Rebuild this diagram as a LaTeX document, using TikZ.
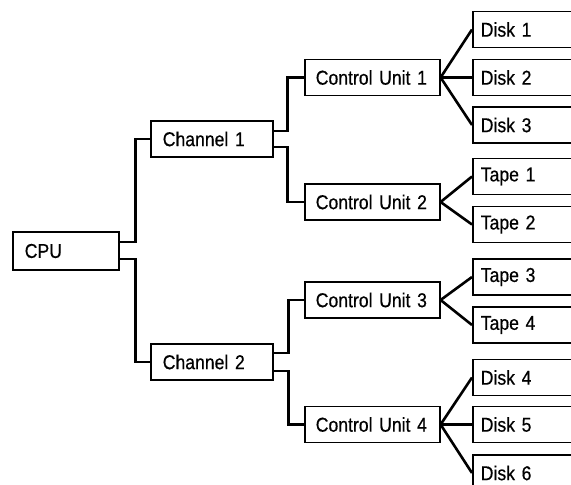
\documentclass[tikz,border=0pt]{standalone}
\usepackage{fontspec}
\setmainfont{Liberation Sans}[FakeStretch=0.88, FakeBold=0.5]
\usetikzlibrary{calc}
\begin{document}
\begin{tikzpicture}[x=1pt,y=-1pt,
  box/.style={draw, line width=1.6pt, anchor=west, inner xsep=0pt, inner ysep=0pt,
    font=\fontsize{20}{22}\selectfont, align=left},
  cpubox/.style={box, minimum width=106, minimum height=38, text width=82},
  chbox/.style={box, minimum width=122, minimum height=36, text width=98},
  cubox/.style={box, minimum width=135, minimum height=36, text width=113},
  leaf/.style={box, minimum width=120, minimum height=36, text width=104},
  wire/.style={line width=2.8pt, line join=miter}]
\clip (0,0) rectangle (571,485);
\fill[white] (0,0) rectangle (571,485);

\node[cpubox] (cpu) at (12,251) {CPU};
\node[chbox] (ch1) at (150,139) {Channel 1};
\node[chbox] (ch2) at (150,362) {Channel 2};
\node[cubox] (cu1) at (304,77.5) {Control Unit 1};
\node[cubox] (cu2) at (304,202) {Control Unit 2};
\node[cubox] (cu3) at (304,300) {Control Unit 3};
\node[cubox] (cu4) at (304,424.5) {Control Unit 4};

\node[leaf] (d1) at (472,29.5) {Disk 1};
\node[leaf] (d2) at (472,77.5) {Disk 2};
\node[leaf] (d3) at (472,125) {Disk 3};
\node[leaf] (t1) at (472,176.5) {Tape 1};
\node[leaf] (t2) at (472,224.5) {Tape 2};
\node[leaf] (t3) at (472,277) {Tape 3};
\node[leaf] (t4) at (472,325) {Tape 4};
\node[leaf] (d4) at (472,377.5) {Disk 4};
\node[leaf] (d5) at (472,424.5) {Disk 5};
\node[leaf] (d6) at (472,473) {Disk 6};

% CPU to channels
\draw[wire] ([yshift=9pt]cpu.east) -- ++(16,0) |- (ch1.west);
\draw[wire] ([yshift=-8pt]cpu.east) -- ++(16,0) |- (ch2.west);
% channels to control units
\draw[wire] ([yshift=8pt]ch1.east) -- ++(14,0) |- (cu1.west);
\draw[wire] ([yshift=-8pt]ch1.east) -- ++(14,0) |- (cu2.west);
\draw[wire] ([yshift=9pt]ch2.east) -- ++(15,0) |- (cu3.west);
\draw[wire] ([yshift=-9pt]ch2.east) -- ++(15,0) |- (cu4.west);
% control units to devices
\foreach \c/\d in {cu1/d1,cu1/d2,cu1/d3,cu2/t1,cu2/t2,cu3/t3,cu3/t4,cu4/d4,cu4/d5,cu4/d6}
  \draw[wire, line width=2.6pt] (\c.east) -- (\d.west);
\end{tikzpicture}
\end{document}
